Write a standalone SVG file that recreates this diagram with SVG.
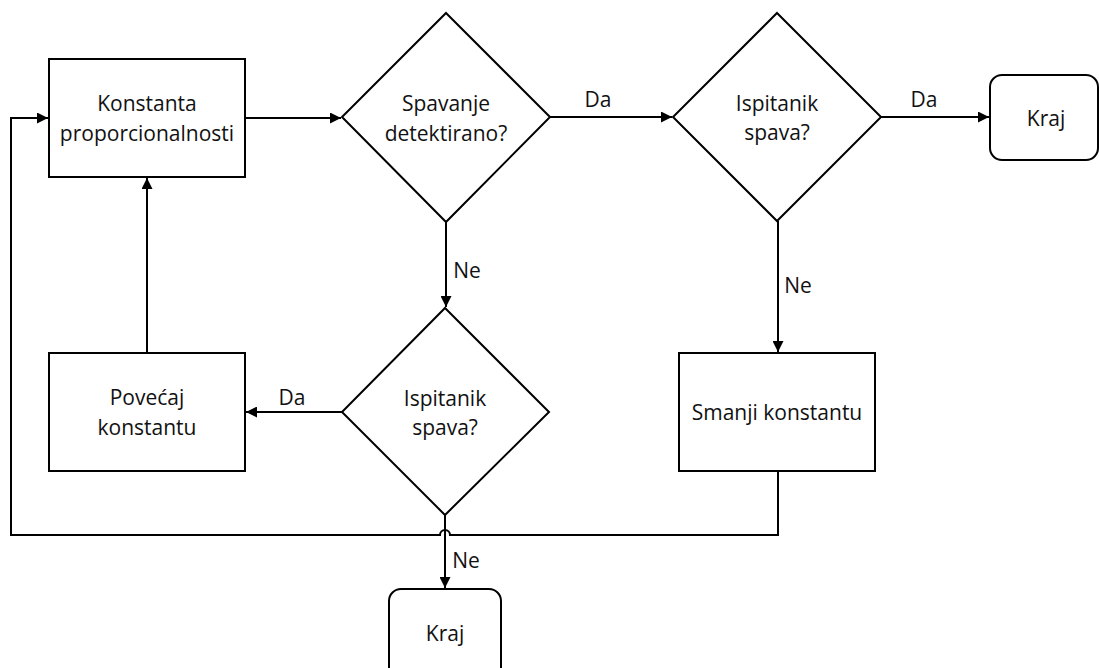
<svg xmlns="http://www.w3.org/2000/svg" width="1099" height="668" viewBox="0 0 1099 668">
  <style>
    .shape { fill: #ffffff; stroke: #000000; stroke-width: 2; }
    .edge { fill: none; stroke: #000000; stroke-width: 2; }
    .label { font-family: "Open Sans", "Liberation Sans", sans-serif; font-size: 21px; fill: #111111; text-anchor: middle; dominant-baseline: central; }
  </style>
  <defs>
    <marker id="arrow" viewBox="0 0 10 10" refX="10" refY="5" markerWidth="6" markerHeight="5.5" orient="auto" markerUnits="strokeWidth">
      <path d="M0,0 L10,5 L0,10 z" fill="#000000"/>
    </marker>
  </defs>
  <rect width="1099" height="668" fill="#ffffff"/>

  <g id="connectors">
    <!-- process to first decision -->
    <path class="edge" d="M245,118 H341" marker-end="url(#arrow)"/>
    <!-- Da: first decision to second decision -->
    <path class="edge" d="M550,117 H672" marker-end="url(#arrow)"/>
    <text class="label" x="598" y="99">Da</text>
    <!-- Da: second decision to end -->
    <path class="edge" d="M881,117 H989" marker-end="url(#arrow)"/>
    <text class="label" x="924" y="99">Da</text>
    <!-- Ne: first decision down -->
    <path class="edge" d="M446,222 V307" marker-end="url(#arrow)"/>
    <text class="label" x="467" y="270">Ne</text>
    <!-- Ne: second decision down -->
    <path class="edge" d="M778,221 V352" marker-end="url(#arrow)"/>
    <text class="label" x="798" y="285">Ne</text>
    <!-- Da: lower decision to increase -->
    <path class="edge" d="M342,412 H246" marker-end="url(#arrow)"/>
    <text class="label" x="292" y="397">Da</text>
    <!-- increase back to constant -->
    <path class="edge" d="M147,353 V178" marker-end="url(#arrow)"/>
    <!-- Ne: lower decision to end -->
    <path class="edge" d="M445,515 V588" marker-end="url(#arrow)"/>
    <text class="label" x="466" y="560">Ne</text>
    <!-- feedback loop from decrease, hopping over the vertical line -->
    <path class="edge" d="M778,471 V535 H450 A5,5 0 0 0 440,535 H11 V118 H48" marker-end="url(#arrow)"/>
  </g>

  <g id="konstanta">
    <rect class="shape" x="49" y="59" width="196" height="118"/>
    <text class="label" x="147" y="103">Konstanta</text>
    <text class="label" x="147" y="133">proporcionalnosti</text>
  </g>

  <g id="spavanje">
    <polygon class="shape" points="446,13 550,117 446,222 342,117"/>
    <text class="label" x="446" y="103">Spavanje</text>
    <text class="label" x="446" y="133">detektirano?</text>
  </g>

  <g id="ispitanik-gore">
    <polygon class="shape" points="777,13 881,117 777,221 673,117"/>
    <text class="label" x="777" y="103">Ispitanik</text>
    <text class="label" x="777" y="132">spava?</text>
  </g>

  <g id="kraj-desno">
    <rect class="shape" x="990" y="75" width="108" height="85" rx="12"/>
    <text class="label" x="1046" y="118">Kraj</text>
  </g>

  <g id="ispitanik-dolje">
    <polygon class="shape" points="445,308 549,412 445,515 342,412"/>
    <text class="label" x="445" y="398">Ispitanik</text>
    <text class="label" x="445" y="427">spava?</text>
  </g>

  <g id="povecaj">
    <rect class="shape" x="49" y="353" width="196" height="118"/>
    <text class="label" x="147" y="397">Povećaj</text>
    <text class="label" x="147" y="427">konstantu</text>
  </g>

  <g id="smanji">
    <rect class="shape" x="679" y="353" width="196" height="118"/>
    <text class="label" x="777" y="412">Smanji konstantu</text>
  </g>

  <g id="kraj-dolje">
    <rect class="shape" x="389" y="589" width="112" height="90" rx="12"/>
    <text class="label" x="445" y="633">Kraj</text>
  </g>
</svg>
